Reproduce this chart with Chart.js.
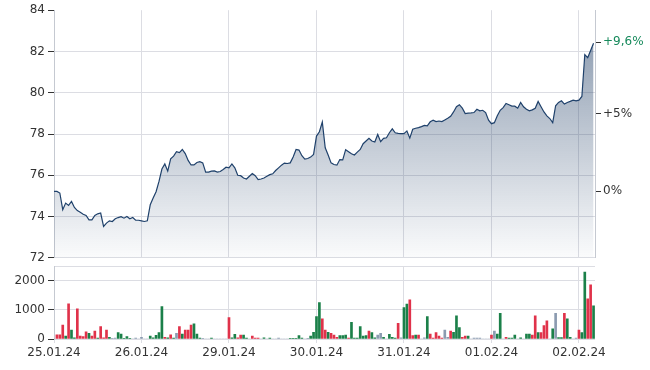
<!DOCTYPE html>
<html>
<head>
<meta charset="utf-8">
<script src="https://cdn.jsdelivr.net/npm/chart.js@4.4.1/dist/chart.umd.min.js"></script>
<style>
  body { margin: 0; background: #fff; }
  #wrap { position: relative; width: 650px; height: 370px; }
  canvas { position: absolute; left: 0; }
  #priceChart { top: 0; }
  #volumeChart { top: 256px; }
</style>
</head>
<body>
<div id="wrap">
  <canvas id="priceChart" width="650" height="268"></canvas>
  <canvas id="volumeChart" width="650" height="114"></canvas>
</div>
<script>
// Trading days and where each one starts in the intraday series
const dayLabels = ['25.01.24', '26.01.24', '29.01.24', '30.01.24', '31.01.24', '01.02.24', '02.02.24'];
const dayStarts = [0, 30, 60, 90, 120, 150, 180];

// Intraday prices
const prices = [
    75.22, 75.22, 75.14, 74.33, 74.65, 74.54, 74.73, 74.44, 74.29, 74.21,
    74.11, 74.05, 73.84, 73.84, 74.05, 74.13, 74.17, 73.52, 73.68, 73.79,
    73.76, 73.89, 73.95, 73.99, 73.92, 74.00, 73.89, 73.95, 73.82, 73.82,
    73.79, 73.76, 73.79, 74.57, 74.90, 75.20, 75.70, 76.30, 76.55, 76.20,
    76.80, 76.93, 77.14, 77.10, 77.25, 77.05, 76.72, 76.50, 76.50, 76.62,
    76.66, 76.60, 76.15, 76.15, 76.20, 76.21, 76.15, 76.18, 76.28, 76.39,
    76.36, 76.55, 76.36, 76.00, 75.98, 75.87, 75.82, 75.95, 76.08, 75.98,
    75.79, 75.82, 75.87, 75.95, 76.03, 76.07, 76.23, 76.36, 76.49, 76.59,
    76.57, 76.60, 76.89, 77.25, 77.22, 76.95, 76.78, 76.81, 76.88, 77.01,
    77.90, 78.11, 78.58, 77.33, 76.98, 76.60, 76.52, 76.49, 76.76, 76.75,
    77.24, 77.14, 77.04, 76.98, 77.12, 77.25, 77.53, 77.66, 77.79, 77.66,
    77.61, 77.98, 77.63, 77.79, 77.82, 78.06, 78.25, 78.06, 78.03, 78.02,
    78.02, 78.15, 77.80, 78.23, 78.28, 78.31, 78.36, 78.42, 78.39, 78.59,
    78.67, 78.60, 78.63, 78.60, 78.68, 78.76, 78.86, 79.07, 79.32, 79.42,
    79.25, 78.99, 79.01, 79.02, 79.04, 79.20, 79.12, 79.15, 79.04, 78.67,
    78.50, 78.55, 78.88, 79.15, 79.28, 79.48, 79.42, 79.35, 79.35, 79.25,
    79.53, 79.32, 79.20, 79.12, 79.17, 79.25, 79.58, 79.32, 79.07, 78.88,
    78.75, 78.55, 79.37, 79.53, 79.61, 79.45, 79.53, 79.58, 79.64, 79.61,
    79.64, 79.82, 81.85, 81.70, 82.05, 82.40
];

// Traded volume per interval
const volumes = [
    0, 140, 140, 480, 100, 1207, 310, 40, 1034, 100,
    80, 250, 195, 100, 275, 30, 425, 40, 310, 60,
    20, 30, 220, 170, 20, 80, 20, 0, 30, 0,
    60, 0, 0, 100, 40, 130, 220, 1115, 60, 40,
    140, 30, 195, 425, 170, 310, 310, 480, 517, 170,
    30, 20, 0, 0, 30, 0, 0, 0, 0, 0,
    735, 40, 160, 40, 138, 138, 30, 0, 100, 30,
    30, 0, 40, 0, 30, 0, 0, 30, 0, 0,
    0, 20, 20, 20, 115, 30, 0, 20, 100, 230,
    770, 1253, 690, 310, 230, 195, 138, 60, 115, 115,
    138, 30, 575, 30, 30, 425, 100, 115, 275, 218,
    40, 138, 195, 60, 0, 160, 60, 30, 540, 40,
    1080, 1195, 1345, 115, 138, 138, 0, 40, 770, 170,
    30, 218, 100, 30, 310, 60, 275, 230, 793, 390,
    60, 100, 100, 0, 30, 30, 30, 0, 0, 0,
    138, 275, 170, 885, 0, 60, 30, 30, 138, 0,
    40, 0, 170, 170, 138, 793, 218, 218, 460, 620,
    0, 345, 885, 50, 50, 885, 690, 60, 0, 30,
    310, 218, 2300, 1380, 1862, 1138
];

// Tick direction per interval: u = up, d = down, n = unchanged
const volumeDir = [
    'n','d','d','d','u','d','u','u','d','d',
    'd','d','u','d','d','u','d','d','d','u',
    'n','n','u','u','u','u','u','n','n','n',
    'n','n','n','u','u','u','u','u','d','u',
    'd','u','n','d','u','d','d','d','u','u',
    'u','n','n','n','u','n','n','n','n','n',
    'd','u','u','d','d','u','u','n','d','d',
    'd','n','u','n','u','n','n','n','n','n',
    'n','u','u','u','u','u','n','n','u','u',
    'u','u','d','d','u','d','d','d','u','u',
    'u','d','u','u','u','u','u','u','d','u',
    'u','n','n','u','n','u','u','u','d','n',
    'u','u','d','d','u','d','n','n','u','d',
    'd','d','d','d','n','n','d','u','u','u',
    'd','d','u','n','n','n','n','n','n','n',
    'd','n','u','u','n','d','u','u','u','n',
    'u','n','u','u','d','d','u','d','d','d',
    'n','u','n','u','u','d','u','u','n','n',
    'd','u','u','d','d','u'
];

// Left axis range and the right-hand performance ticks
const priceMin = 72;
const priceMax = 84;
const basePrice = 75.22;
const pctTicks = [0, 5, 9.6];
const volumeMax = 2500;
const volumeTicks = [0, 1000, 2000, 2500];

const textColor = '#333';
const gridColor = '#dcdde3';
const borderColor = '#c5c9d1';
const dirColors = { u: '#1b8049', d: '#e0324a', n: '#8b9bb0' };
const font = { family: 'DejaVu Sans', size: 12 };
const xMax = 185.5;

function dayTicks(axis) {
    axis.ticks = dayStarts.map(v => ({ value: v }));
}

function fillGradient(context) {
    const area = context.chart.chartArea;
    if (!area) return 'rgba(30,60,100,0.2)';
    const g = context.chart.ctx.createLinearGradient(0, area.top, 0, area.bottom);
    g.addColorStop(0, 'rgba(30,60,100,0.55)');
    g.addColorStop(1, 'rgba(30,60,100,0.02)');
    return g;
}

function pctLabel(p) {
    if (p === 0) return '0%';
    return '+' + String(p).replace('.', ',') + '%';
}

// Price chart
new Chart(document.getElementById('priceChart'), {
    type: 'line',
    data: {
        datasets: [{
            data: prices.map((p, i) => ({ x: i, y: p })),
            borderColor: '#1f416b',
            borderWidth: 1.2,
            backgroundColor: fillGradient,
            fill: 'start',
            pointRadius: 0,
            tension: 0
        }]
    },
    options: {
        responsive: false,
        animation: false,
        layout: { padding: { top: 10, bottom: 6, left: 0, right: 0 } },
        plugins: { legend: { display: false }, tooltip: { enabled: false } },
        scales: {
            x: {
                type: 'linear',
                min: 0,
                max: xMax,
                afterBuildTicks: dayTicks,
                afterFit: axis => { axis.height = 0; },
                ticks: { display: false },
                grid: { color: gridColor, drawTicks: false },
                border: { display: false }
            },
            y: {
                position: 'left',
                min: priceMin,
                max: priceMax,
                afterFit: axis => { axis.width = 54; },
                ticks: { stepSize: 2, color: textColor, font: font, padding: 3 },
                grid: {
                    color: ctx => (ctx.tick && ctx.tick.value === priceMax ? 'rgba(0,0,0,0)' : gridColor),
                    tickColor: textColor,
                    tickLength: 6
                },
                border: { color: borderColor }
            },
            pct: {
                position: 'right',
                min: priceMin,
                max: priceMax,
                afterFit: axis => { axis.width = 55; },
                afterBuildTicks: axis => {
                    axis.ticks = pctTicks.map(p => ({ value: basePrice * (1 + p / 100) }));
                },
                ticks: {
                    font: font,
                    padding: 2,
                    color: ctx => (ctx.index === pctTicks.length - 1 ? '#178a5c' : textColor),
                    callback: (value, index) => pctLabel(pctTicks[index])
                },
                grid: { drawOnChartArea: false, tickColor: textColor, tickLength: 6 },
                border: { color: borderColor }
            }
        }
    }
});

// Volume chart
new Chart(document.getElementById('volumeChart'), {
    type: 'bar',
    data: {
        datasets: [{
            data: volumes.map((v, i) => ({ x: i, y: v })),
            backgroundColor: volumeDir.map(d => dirColors[d]),
            barThickness: 2
        }]
    },
    options: {
        responsive: false,
        animation: false,
        layout: { padding: { top: 4, bottom: 0, left: 0, right: 55 } },
        plugins: { legend: { display: false }, tooltip: { enabled: false } },
        scales: {
            x: {
                type: 'linear',
                min: 0,
                max: xMax,
                offset: false,
                afterBuildTicks: dayTicks,
                afterFit: axis => { axis.height = 31; },
                ticks: {
                    color: textColor,
                    font: font,
                    padding: 3,
                    maxRotation: 0,
                    autoSkip: false,
                    callback: (value, index) => dayLabels[index]
                },
                grid: { color: gridColor, offset: false, tickLength: 4 },
                border: { display: false }
            },
            y: {
                min: 0,
                max: volumeMax,
                afterFit: axis => { axis.width = 54; },
                afterBuildTicks: axis => {
                    axis.ticks = volumeTicks.map(v => ({ value: v }));
                },
                ticks: {
                    color: textColor,
                    font: font,
                    padding: 3,
                    callback: v => (v === volumeMax ? '' : String(v))
                },
                grid: {
                    color: gridColor,
                    tickColor: ctx => (ctx.tick && ctx.tick.value === volumeMax ? 'rgba(0,0,0,0)' : textColor),
                    tickLength: 6
                },
                border: { color: borderColor }
            }
        }
    }
});
</script>
</body>
</html>
